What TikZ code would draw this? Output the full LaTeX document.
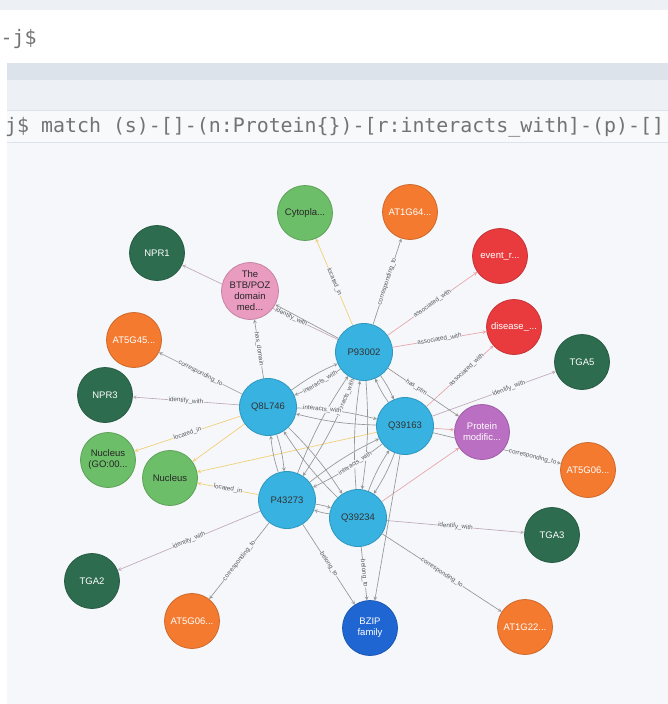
\documentclass[tikz,border=0pt]{standalone}
\usepackage{fontspec}
\setmainfont{Liberation Sans}
\newfontfamily\codefont{DejaVu Sans Mono}
\usetikzlibrary{shapes,arrows,positioning,calc,backgrounds}

\definecolor{panel}{HTML}{F5F7FB}
\definecolor{bandgray}{HTML}{DCE3EA}
\definecolor{bandlight}{HTML}{EDF1F5}
\definecolor{protblue}{HTML}{38B2E0}
\definecolor{orangec}{HTML}{F47A30}
\definecolor{redc}{HTML}{E93B3E}
\definecolor{darkgreen}{HTML}{2D6C4E}
\definecolor{lightgreen}{HTML}{6DBE69}
\definecolor{pinkc}{HTML}{E99BC0}
\definecolor{purplec}{HTML}{BA6FC2}
\definecolor{bzipblue}{HTML}{2066D2}
\definecolor{linegray}{HTML}{959595}
\definecolor{lineyellow}{HTML}{F1CE6E}
\definecolor{linepink}{HTML}{E7A3A6}
\definecolor{linemauve}{HTML}{BFA8B8}

\begin{document}
\begin{tikzpicture}[x=1pt,y=-1pt,
    ent/.style={draw, circle, minimum size=55pt, inner sep=0pt, align=center, line width=0.8pt,
        font=\fontsize{9.5}{11}\selectfont},
    prot/.style={ent, fill=protblue, draw=protblue!85!black, text=black!80, minimum size=57pt},
    gene/.style={ent, fill=orangec, draw=orangec!85!black, text=white},
    dis/.style={ent, fill=redc, draw=redc!85!black, text=white},
    tf/.style={ent, fill=darkgreen, draw=darkgreen!85!black, text=white},
    loc/.style={ent, fill=lightgreen, draw=lightgreen!85!black, text=black!85},
    dom/.style={ent, fill=pinkc, draw=pinkc!85!black, text=black!85},
    mod/.style={ent, fill=purplec, draw=purplec!85!black, text=white},
    fam/.style={ent, fill=bzipblue, draw=bzipblue!85!black, text=white},
    rel/.style={->, >=stealth, draw=linegray, line width=0.65pt},
    lbl/.style={sloped, midway, fill=panel, inner sep=0.4pt, text=black!65,
        font=\fontsize{6.3}{7}\selectfont}]

    \useasboundingbox (0,0) rectangle (668,704);

    % nodes
    \node (cyto) [loc] at (305,213) {Cytopla...};
    \node (at1g64) [gene] at (410,212) {AT1G64...};
    \node (npr1) [tf] at (157,253) {NPR1};
    \node (btb) [dom] at (250,291) {The\\BTB/POZ\\domain\\med...};
    \node (event) [dis] at (500,256) {event\_r...};
    \node (disease) [dis] at (514,327) {disease\_...};
    \node (at5g45) [gene] at (134,340) {AT5G45...};
    \node (p93002) [prot] at (364,352) {P93002};
    \node (tga5) [tf] at (582,362) {TGA5};
    \node (npr3) [tf] at (105,395) {NPR3};
    \node (q8l746) [prot] at (268,407) {Q8L746};
    \node (q39163) [prot] at (405,426) {Q39163};
    \node (ptm) [mod] at (482,432) {Protein\\modific...};
    \node (nucgo) [loc] at (108,460) {Nucleus\\(GO:00...};
    \node (nucleus) [loc] at (170,478) {Nucleus};
    \node (at5g06r) [gene] at (588,470) {AT5G06...};
    \node (p43273) [prot] at (287,500) {P43273};
    \node (q39234) [prot] at (358,518) {Q39234};
    \node (tga3) [tf] at (552,535) {TGA3};
    \node (tga2) [tf] at (92,581) {TGA2};
    \node (at5g06l) [gene] at (192,621) {AT5G06...};
    \node (bzip) [fam] at (370,628) {BZIP\\family};
    \node (at1g22) [gene] at (525,627) {AT1G22...};

    % browser frame and edges behind the nodes
    \begin{scope}[on background layer]
        \fill[white] (0,0) rectangle (668,704);
        \fill[bandlight] (0,0) rectangle (668,10);
        \fill[bandgray] (7,63) rectangle (668,80);
        \fill[bandlight] (7,80) rectangle (668,110);
        \fill[white!60!bandlight] (7,110) rectangle (668,142);
        \draw[bandgray] (7,110) -- (668,110) (7,142) -- (668,142);
        \fill[panel] (7,143) rectangle (668,704);
        \node (prompt) [anchor=base west, inner sep=0pt, text=black!55,
            font=\codefont\fontsize{19.9}{22}\selectfont] at (0.5,44) {-j\$};
        \node (query) [anchor=base west, inner sep=0pt, text=black!55,
            font=\codefont\fontsize{19.9}{22}\selectfont] at (5,132)
            {j\$ match (s)-[]-(n:Protein\{\})-[r:interacts\_with]-(p)-[]};

        \draw[rel, draw=lineyellow] (p93002) -- node[lbl] {located\_in} (cyto);
        \draw[rel] (p93002) -- node[lbl] {corresponding\_to} (at1g64);
        \draw[rel, draw=linepink] (p93002) -- node[lbl] {associated\_with} (event);
        \draw[rel, draw=linepink] (p93002) -- node[lbl] {associated\_with} (disease);
        \draw[rel, draw=linepink] (q39163) -- node[lbl, pos=0.6] {associated\_with} (disease);
        \draw[rel, draw=linemauve] (p93002) -- node[lbl, pos=0.3] {identify\_with} (npr1);
        \draw[rel] (p93002) -- (btb);
        \draw[rel] (q8l746) -- node[lbl] {has\_domain} (btb);
        \draw[rel] (q8l746) -- node[lbl] {corresponding\_to} (at5g45);
        \draw[rel, draw=linemauve] (q8l746) -- node[lbl] {identify\_with} (npr3);
        \draw[rel, draw=lineyellow] (q8l746) -- node[lbl] {located\_in} (nucgo);
        \draw[rel, draw=lineyellow] (q8l746) -- (nucleus);
        \draw[rel, draw=lineyellow] (q39163) -- (nucleus);
        \draw[rel, draw=lineyellow] (p43273) -- node[lbl] {located\_in} (nucleus);
        \draw[rel, draw=linemauve] (q39163) -- node[lbl, pos=0.62] {identify\_with} (tga5);
        \draw[rel, draw=linepink] (q39163) -- (ptm);
        \draw[rel] (p93002) -- node[lbl, pos=0.4] {has\_ptm} (ptm);
        \draw[rel, draw=linepink] (q39234) -- (ptm);
        \draw[rel] (q39163) -- node[lbl, pos=0.78] {corresponding\_to} (at5g06r);
        \draw[rel, draw=linemauve] (q39234) -- node[lbl] {identify\_with} (tga3);
        \draw[rel] (q39234) -- node[lbl] {corresponding\_to} (at1g22);
        \draw[rel, draw=linemauve] (p43273) -- node[lbl] {identify\_with} (tga2);
        \draw[rel] (p43273) -- node[lbl] {corresponding\_to} (at5g06l);
        \draw[rel] (p43273) -- node[lbl] {belong\_to} (bzip);
        \draw[rel] (q39234) -- node[lbl] {belong\_to} (bzip);
        \draw[rel] (q39163) -- (bzip);

        % interacts_with between the five proteins
        \draw[rel, bend left=6] (p93002) to node[lbl, pos=0.45] {interacts\_with} (q8l746);
        \draw[rel, bend left=6] (q8l746) to (p93002);
        \draw[rel, bend left=6] (p93002) to (q39163);
        \draw[rel, bend left=6] (q39163) to (p93002);
        \draw[rel, bend left=6] (p93002) to node[lbl, pos=0.17] {interacts\_with} (p43273);
        \draw[rel, bend left=6] (p43273) to (p93002);
        \draw[rel, bend left=6] (p93002) to (q39234);
        \draw[rel, bend left=6] (q39234) to (p93002);
        \draw[rel, bend left=6] (q8l746) to node[lbl, pos=0.3] {interacts\_with} (q39163);
        \draw[rel, bend left=6] (q39163) to (q8l746);
        \draw[rel, bend left=6] (q8l746) to (p43273);
        \draw[rel, bend left=6] (p43273) to (q8l746);
        \draw[rel, bend left=6] (q8l746) to (q39234);
        \draw[rel, bend left=6] (q39234) to (q8l746);
        \draw[rel, bend left=6] (q39163) to node[lbl, pos=0.4] {interacts\_with} (p43273);
        \draw[rel, bend left=6] (p43273) to (q39163);
        \draw[rel, bend left=6] (q39163) to (q39234);
        \draw[rel, bend left=6] (q39234) to (q39163);
        \draw[rel, bend left=6] (p43273) to (q39234);
        \draw[rel, bend left=6] (q39234) to (p43273);
    \end{scope}
\end{tikzpicture}
\end{document}
